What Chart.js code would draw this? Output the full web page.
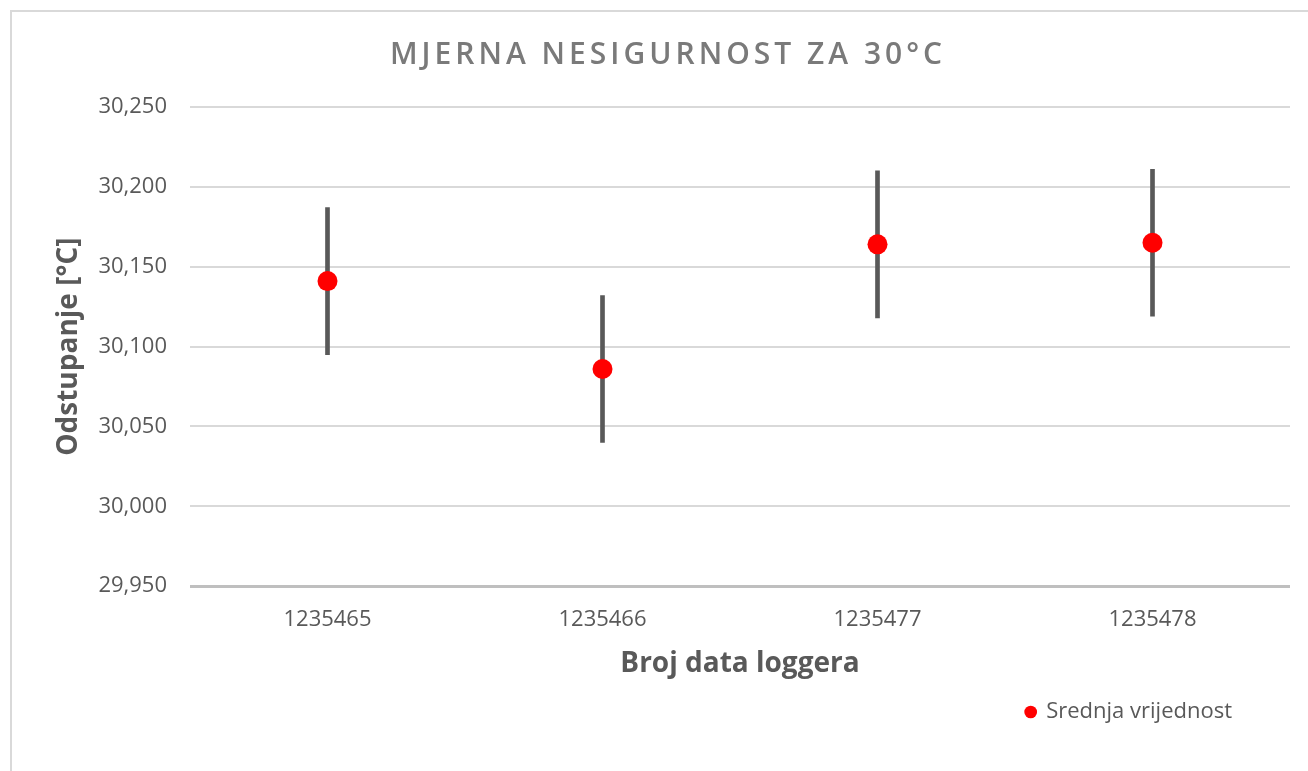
<!DOCTYPE html>
<html>
<head>
<meta charset="utf-8">
<script src="https://cdn.jsdelivr.net/npm/chart.js@4/dist/chart.umd.min.js"></script>
<style>
html, body { margin: 0; padding: 0; background: #fff; overflow: hidden; width: 1308px; height: 771px; }
#frame { position: absolute; left: 10px; top: 10px; width: 1312px; height: 770px;
  border-left: 2px solid #d9d9d9; border-top: 2px solid #d9d9d9; background: #fff; }
#frame canvas { display: block; }
</style>
</head>
<body>
<div id="frame"><canvas id="chart"></canvas></div>
<script>
// ---- data ----
const categories = ['1235465', '1235466', '1235477', '1235478'];
const meanValues = [30.141, 30.086, 30.164, 30.165];
const uncertainty = [0.046, 0.046, 0.046, 0.046];
const yTickValues = [29.95, 30.0, 30.05, 30.1, 30.15, 30.2, 30.25];
const titleText = 'MJERNA NESIGURNOST ZA 30°C';
const xTitleText = 'Broj data loggera';
const yTitleText = 'Odstupanje [°C]';
const seriesName = 'Srednja vrijednost';

// ---- derived ----
const errorRanges = meanValues.map((m, i) => [m - uncertainty[i], m + uncertainty[i]]);

const FONT = "'Open Sans', 'DejaVu Sans', sans-serif";
const TXT = '#595959';
const PAD_RIGHT = 34;

const tweaks = {
  id: 'tweaks',
  afterInit(chart) {
    const tb = chart.titleBlock;
    if (tb) {
      const orig = tb.draw;
      tb.draw = function (...args) {
        const ctx = this.ctx;
        ctx.save();
        ctx.letterSpacing = '4px';
        ctx.translate(PAD_RIGHT / 2, 0);
        orig.apply(this, args);
        ctx.restore();
      };
    }
  },
  afterLayout(chart) {
    const lg = chart.legend;
    if (lg) { lg.left -= 48; lg.right -= 48; }
  }
};

new Chart(document.getElementById('chart'), {
  type: 'bar',
  data: {
    labels: categories,
    datasets: [
      {
        type: 'line',
        label: seriesName,
        data: meanValues,
        showLine: false,
        pointRadius: 10,
        pointHoverRadius: 10,
        pointBackgroundColor: '#ff0000',
        pointBorderColor: '#ff0000',
        pointBorderWidth: 0,
        backgroundColor: '#ff0000',
        borderColor: '#ff0000'
      },
      {
        type: 'bar',
        label: 'Mjerna nesigurnost',
        data: errorRanges,
        backgroundColor: '#595959',
        borderWidth: 0,
        barThickness: 4
      }
    ]
  },
  options: {
    responsive: true,
    maintainAspectRatio: false,
    animation: false,
    devicePixelRatio: 1,
    layout: { padding: { top: 0, left: 0, right: PAD_RIGHT, bottom: 49 } },
    plugins: {
      tooltip: { enabled: false },
      title: {
        display: true,
        text: titleText,
        color: '#7a7a7a',
        font: { family: FONT, size: 30, weight: '600' },
        padding: { top: 25, bottom: 34 }
      },
      legend: {
        display: true,
        position: 'bottom',
        align: 'end',
        labels: {
          filter: (item) => item.datasetIndex === 0,
          usePointStyle: true,
          pointStyle: 'circle',
          boxWidth: 9,
          boxHeight: 9,
          padding: 10,
          color: TXT,
          font: { family: FONT, size: 22 }
        }
      }
    },
    scales: {
      x: {
        offset: true,
        grid: { display: false, drawTicks: false, offset: true },
        border: { display: false },
        ticks: { color: TXT, padding: 20, font: { family: FONT, size: 22 } },
        title: {
          display: true,
          text: xTitleText,
          color: TXT,
          font: { family: FONT, size: 28, weight: 'bold', lineHeight: 0.8 },
          padding: { top: 0, bottom: 16 }
        }
      },
      y: {
        min: yTickValues[0],
        max: yTickValues[yTickValues.length - 1],
        afterBuildTicks: (s) => { s.ticks = yTickValues.map(v => ({ value: v })); },
        afterFit: (s) => { s.width = 178; },
        grid: {
          drawTicks: false,
          color: (c) => (c.index === 0 ? '#bfbfbf' : '#d9d9d9'),
          lineWidth: (c) => (c.index === 0 ? 3 : 2)
        },
        border: { display: false },
        ticks: {
          color: TXT,
          padding: 23,
          font: { family: FONT, size: 22 },
          callback: (v) => Number(v).toFixed(3).replace('.', ',')
        },
        title: {
          display: true,
          text: yTitleText,
          color: TXT,
          font: { family: FONT, size: 28, weight: 'bold' },
          padding: { top: 40, bottom: 10 }
        }
      }
    }
  },
  plugins: [tweaks]
});
</script>
</body>
</html>
